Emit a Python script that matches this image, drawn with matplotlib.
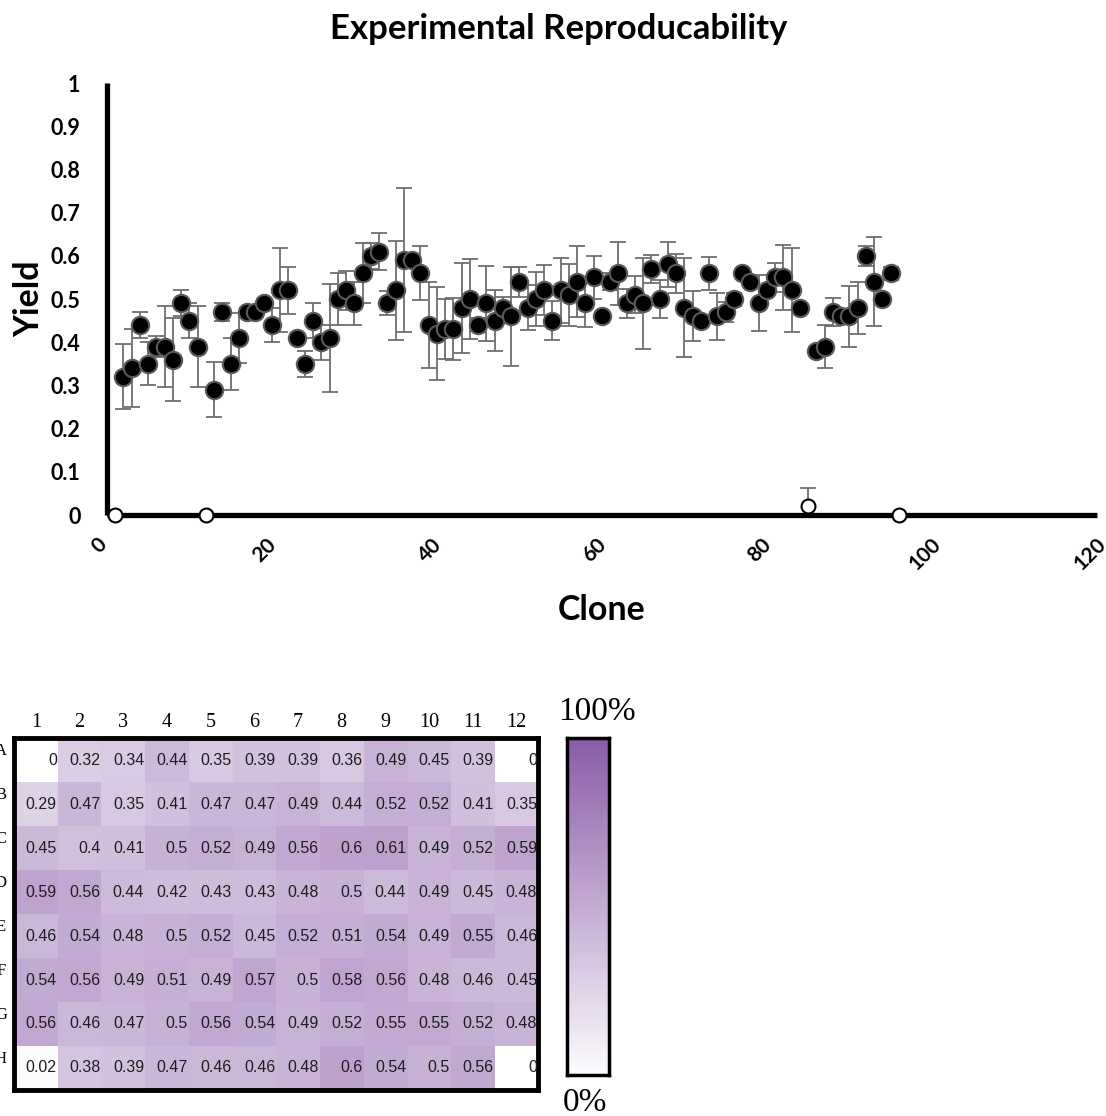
import matplotlib
matplotlib.use("Agg")
import matplotlib.pyplot as plt
import matplotlib.transforms as mtransforms
import numpy as np
from matplotlib.colors import LinearSegmentedColormap

# plate layout, rows A-H, columns 1-12 (clone number runs row by row)
rows = ["A", "B", "C", "D", "E", "F", "G", "H"]
cols = [str(c) for c in range(1, 13)]

plate = [
    [0, 0.32, 0.34, 0.44, 0.35, 0.39, 0.39, 0.36, 0.49, 0.45, 0.39, 0],
    [0.29, 0.47, 0.35, 0.41, 0.47, 0.47, 0.49, 0.44, 0.52, 0.52, 0.41, 0.35],
    [0.45, 0.4, 0.41, 0.5, 0.52, 0.49, 0.56, 0.6, 0.61, 0.49, 0.52, 0.59],
    [0.59, 0.56, 0.44, 0.42, 0.43, 0.43, 0.48, 0.5, 0.44, 0.49, 0.45, 0.48],
    [0.46, 0.54, 0.48, 0.5, 0.52, 0.45, 0.52, 0.51, 0.54, 0.49, 0.55, 0.46],
    [0.54, 0.56, 0.49, 0.51, 0.49, 0.57, 0.5, 0.58, 0.56, 0.48, 0.46, 0.45],
    [0.56, 0.46, 0.47, 0.5, 0.56, 0.54, 0.49, 0.52, 0.55, 0.55, 0.52, 0.48],
    [0.02, 0.38, 0.39, 0.47, 0.46, 0.46, 0.48, 0.6, 0.54, 0.5, 0.56, 0],
]

# standard deviation for each clone, same order
errs = [
    0, 0.075, 0.09, 0.03, 0.05, 0.025, 0.093, 0.096, 0.03, 0.04, 0.094, 0,
    0.064, 0.02, 0.06, 0.058, 0.01, 0.01, 0.01, 0.04, 0.097, 0.054, 0.01, 0.03,
    0.04, 0.04, 0.125, 0.06, 0.045, 0.05, 0.07, 0.03, 0.042, 0.028, 0.115, 0.167,
    0.01, 0.063, 0.1, 0.107, 0.069, 0.072, 0.104, 0.093, 0.015, 0.087, 0.071, 0.025,
    0.115, 0.035, 0.052, 0.062, 0.058, 0.045, 0.076, 0.072, 0.082, 0.055, 0.05, 0.005,
    0.02, 0.073, 0.034, 0.043, 0.106, 0.033, 0.043, 0.051, 0.045, 0.115, 0.058, 0.005,
    0.038, 0.055, 0.023, 0.015, 0.005, 0.005, 0.065, 0.01, 0.033, 0.075, 0.097, 0.005,
    0.042, 0.01, 0.049, 0.033, 0.005, 0.07, 0.06, 0.023, 0.103, 0.005, 0.015, 0,
]

yticks = [0, 0.1, 0.2, 0.3, 0.4, 0.5, 0.6, 0.7, 0.8, 0.9, 1]
xticks = [0, 20, 40, 60, 80, 100, 120]

plate = np.array(plate)
yields = plate.flatten()
errs = np.array(errs)
clone = np.arange(1, len(yields) + 1)
empty = yields < 0.05

fig = plt.figure(figsize=(11.06, 11.16), dpi=100)
calibri = "Lato"

# ---- scatter of yield per clone ----
ax = fig.add_axes([0.0967, 0.5385, 0.8951, 0.3871])
ax.errorbar(clone, yields, yerr=errs, fmt="none", ecolor="#6e6e6e",
            elinewidth=1.3, capsize=5.5, capthick=1.3, zorder=2)
ax.plot(clone[~empty], yields[~empty], "o", ms=12.5, mfc="black",
        mec="#5a5a5a", mew=1.5, zorder=3)
ax.plot(clone[empty], yields[empty], "o", ms=10, mfc="white",
        mec="black", mew=1.5, zorder=4, clip_on=False)

ax.set_xlim(0, 120)
ax.set_ylim(0, 1)
ax.tick_params(axis="both", length=0)
ax.tick_params(axis="y", pad=19)
ax.tick_params(axis="x", pad=14)
ax.set_yticks(yticks)
ax.set_yticklabels([f"{t:g}" for t in yticks], fontfamily=calibri,
                   fontweight="bold", fontsize=15.5)
ax.set_xticks(xticks)
ax.set_xticklabels([str(t) for t in xticks], fontfamily=calibri,
                   fontweight="bold", fontsize=15, rotation=45,
                   ha="center", va="top")
# nudge the slanted labels a little to the left
shift = mtransforms.ScaledTranslation(-7 / 100, 0, fig.dpi_scale_trans)
for lab in ax.get_xticklabels():
    lab.set_transform(lab.get_transform() + shift)
for s in ["top", "right"]:
    ax.spines[s].set_visible(False)
for s in ["left", "bottom"]:
    ax.spines[s].set_linewidth(3.8)
    ax.spines[s].set_capstyle("butt")

ax.set_xlabel("Clone", fontfamily=calibri, fontweight="bold", fontsize=24.5,
              labelpad=14)
ax.set_ylabel("Yield", fontfamily=calibri, fontweight="bold", fontsize=24.5,
              labelpad=4)
fig.text(0.505, 0.974, "Experimental Reproducability", ha="center",
         va="center", fontfamily=calibri, fontweight="bold", fontsize=25)

# ---- plate heatmap ----
purple = LinearSegmentedColormap.from_list("plate", ["#ffffff", "#8a5ca8"])
hx = fig.add_axes([0.0127, 0.0233, 0.4738, 0.3154])
hx.imshow(plate, cmap=purple, vmin=0, vmax=1.05, aspect="auto",
          interpolation="nearest")
for r in range(len(rows)):
    for c in range(len(cols)):
        hx.text(c + 0.48, r, f"{plate[r, c]:g}", ha="right", va="center",
                fontfamily="Liberation Sans", fontsize=11.5, color="#1e1e1e")
hx.set_xticks(range(len(cols)))
hx.set_xticklabels(cols, fontfamily="Liberation Serif", fontsize=14.5)
hx.xaxis.tick_top()
hx.set_yticks([])
for r, name in enumerate(rows):
    hx.text(-0.8, r - 0.2, name, ha="center", va="center",
            fontfamily="Liberation Serif", fontsize=12, clip_on=False)
hx.tick_params(axis="x", length=0, pad=4)
for s in hx.spines.values():
    s.set_linewidth(3.5)

# ---- colour scale ----
cx = fig.add_axes([0.5127, 0.0367, 0.038, 0.302])
grad = np.linspace(1, 0, 256).reshape(-1, 1)
cx.imshow(grad, cmap=purple, vmin=-0.02, vmax=1.0, aspect="auto",
          extent=[0, 1, 0, 1])
cx.set_xticks([])
cx.set_yticks([])
for s in cx.spines.values():
    s.set_linewidth(2.5)
fig.text(0.54, 0.362, "100%", ha="center", va="center",
         fontfamily="Liberation Serif", fontsize=24)
fig.text(0.529, 0.012, "0%", ha="center", va="center",
         fontfamily="Liberation Serif", fontsize=24)

fig.savefig("out.png", dpi=100, facecolor="white")
